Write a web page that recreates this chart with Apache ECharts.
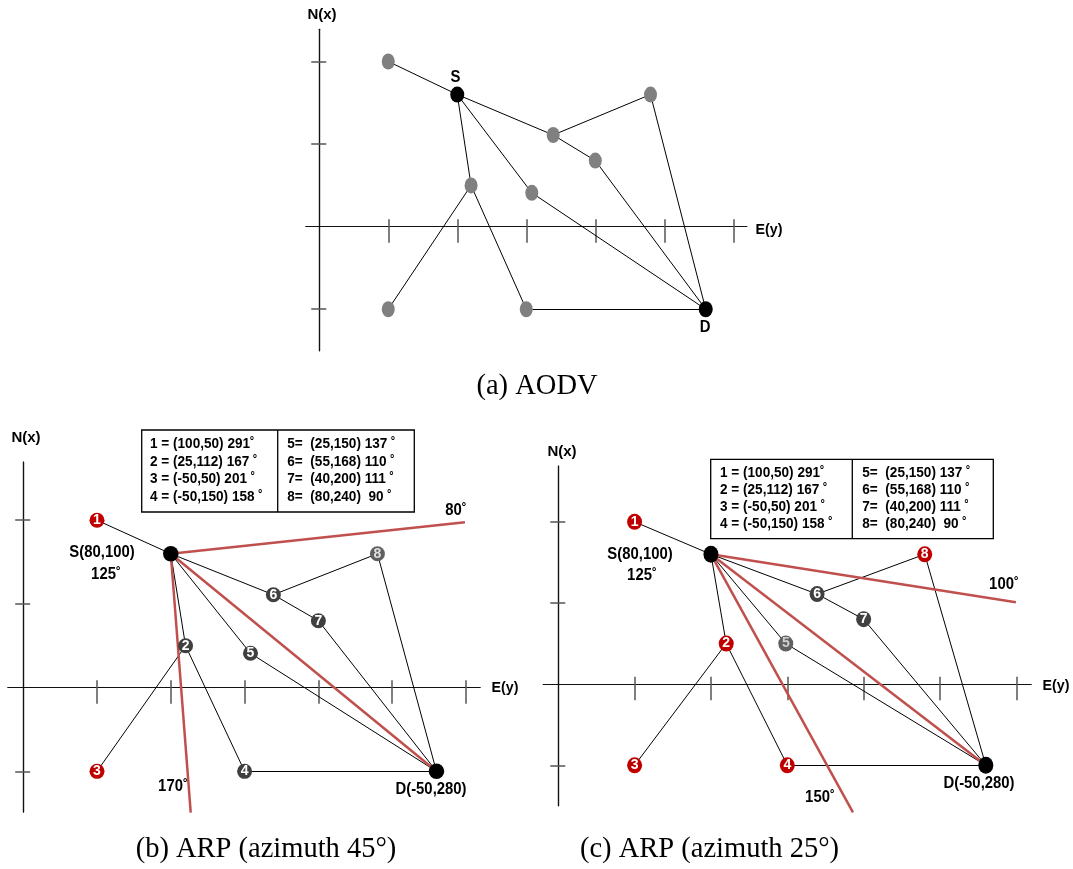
<!DOCTYPE html>
<html><head><meta charset="utf-8">
<script src="https://cdn.jsdelivr.net/npm/echarts@6/dist/echarts.min.js"></script>
<style>html,body{margin:0;padding:0;background:#fff}#c{width:1073px;height:869px}</style>
</head><body><div id="c"></div>
<script>
// ---------------- DATA ----------------
// Node positions: N (x, vertical) and E (y, horizontal)
const nodeNames = ['1', '2', '3', '4', '5', '6', '7', '8'];
const nodeN_ab = [100, 25, -50, -50, 20.5, 55.5, 40, 80];   // panels (a),(b)
const nodeE_ab = [50, 110, 50, 150, 154, 169.5, 200, 240];
const nodeN_c  = [100, 25, -50, -50, 25, 55.5, 40, 80];     // panel (c)
const nodeE_c  = [50, 110, 50, 150, 149, 169.5, 200, 240];
const sourceNode = { name: 'S', N: 80, E: 100 };
const destNode = { name: 'D', N: -50, E: 280 };
const edges = [['1','S'],['S','6'],['6','8'],['8','D'],['6','7'],['7','D'],
               ['S','2'],['2','3'],['2','4'],['4','D'],['S','5'],['5','D']];
const redNodesB = ['1', '3'];
const redNodesC = ['1', '2', '3', '4', '8'];
// red azimuth rays from S, end points [E, N]
const raysB = [{ label: '80˚', end: [299.3, 98.8] }, { label: '170˚', end: [113.5, -74.7] }];
const raysC = [{ label: '100˚', end: [299.7, 50.5] }, { label: '150˚', end: [193, -79] }];
const tickValuesE = [50, 100, 150, 200, 250, 300];
const tickValuesN = [-50, 50, 100];
const tableLeft = ['1 = (100,50) 291˚', '2 = (25,112) 167 ˚', '3 = (-50,50) 201 ˚', '4 = (-50,150) 158 ˚'];
const tableRight = ['5=  (25,150) 137 ˚', '6=  (55,168) 110 ˚', '7=  (40,200) 111 ˚', '8=  (80,240)  90 ˚'];
const captions = ['(a) AODV', '(b) ARP (azimuth 45°)', '(c) ARP (azimuth 25°)'];

// ---------------- LAYOUT ----------------
const SANS = '"Liberation Sans",Arial,"Noto Sans",sans-serif';
const SERIF = '"Liberation Serif","Times New Roman",serif';
const layouts = [
  { left: 306, top: 29.3, width: 440.7, height: 321.4, xMin: -9.6, xMax: 309.7, yMin: -75.1, yMax: 119.5 },
  { left: 8, top: 462, width: 472, height: 350, xMin: -10.3, xMax: 309.5, yMin: -74.3, yMax: 134.8 },
  { left: 543.3, top: 466, width: 487.7, height: 339.7, xMin: -9.8, xMax: 309.6, yMin: -74.9, yMax: 134.4 }
];

const chart = echarts.init(document.getElementById('c'), null, { renderer: 'canvas' });
const grid = [], xAxis = [], yAxis = [], series = [];

layouts.forEach((L, i) => {
  grid.push({ left: L.left, top: L.top, width: L.width, height: L.height, containLabel: false });
  const axLine = { show: true, onZero: true, lineStyle: { color: '#111', width: 1.2 } };
  const tickStyle = { color: '#555', width: 1.5 };
  const common = { gridIndex: i, type: 'value', axisLabel: { show: false }, splitLine: { show: false } };
  xAxis.push(Object.assign({}, common, { position: 'bottom', min: L.xMin, max: L.xMax, axisLine: axLine,
    axisTick: { show: true, inside: false, length: 16, customValues: tickValuesE, lineStyle: tickStyle } }));
  xAxis.push(Object.assign({}, common, { position: 'top', min: L.xMin, max: L.xMax, axisLine: axLine,
    axisTick: { show: true, inside: false, length: 7.5, customValues: tickValuesE, lineStyle: tickStyle } }));
  yAxis.push(Object.assign({}, common, { position: 'left', min: L.yMin, max: L.yMax, axisLine: axLine,
    axisTick: { show: true, inside: false, length: 8, customValues: tickValuesN, lineStyle: tickStyle } }));
  yAxis.push(Object.assign({}, common, { position: 'right', min: L.yMin, max: L.yMax, axisLine: axLine,
    axisTick: { show: true, inside: false, length: 7, customValues: tickValuesN, lineStyle: tickStyle } }));
});

function posMap(Ns, Es) {
  const m = {};
  nodeNames.forEach((n, k) => { m[n] = [Es[k], Ns[k]]; });
  m[sourceNode.name] = [sourceNode.E, sourceNode.N];
  m[destNode.name] = [destNode.E, destNode.N];
  return m;
}

function addPanel(p, Ns, Es, opt) {
  const pos = posMap(Ns, Es);
  const axes = { xAxisIndex: 2 * p, yAxisIndex: 2 * p };
  series.push(Object.assign({
    type: 'lines', coordinateSystem: 'cartesian2d', clip: false, silent: true, z: 2,
    lineStyle: { color: '#000', width: 1, opacity: 1 },
    data: edges.map(e => ({ coords: [pos[e[0]], pos[e[1]]] }))
  }, axes));
  if (opt.rays) {
    const red = [{ coords: [pos.S, pos.D] }].concat(opt.rays.map(r => ({ coords: [pos.S, r.end] })));
    series.push(Object.assign({
      type: 'lines', coordinateSystem: 'cartesian2d', clip: false, silent: true, z: 3,
      lineStyle: { color: '#c0504d', width: 2.5, opacity: 1 }, data: red
    }, axes));
  }
  const pts = nodeNames.map(n => {
    let color = opt.gray, lab = '#fff';
    if (opt.red && opt.red.indexOf(n) >= 0) color = '#c00000';
    if (opt.special && opt.special[n]) { color = opt.special[n][0]; lab = opt.special[n][1]; }
    return {
      name: n, value: pos[n], symbolSize: opt.size, itemStyle: { color: color, opacity: 1 },
      label: { show: !!opt.numbers, formatter: n, color: lab }
    };
  });
  pts.push({ name: 'S', value: pos.S, symbolSize: opt.sizeSD, itemStyle: { color: '#000', opacity: 1 }, label: { show: false } });
  pts.push({ name: 'D', value: pos.D, symbolSize: opt.sizeSD, itemStyle: { color: '#000', opacity: 1 }, label: { show: false } });
  series.push(Object.assign({
    type: 'scatter', clip: false, silent: true, z: 4, symbol: 'circle',
    itemStyle: { opacity: 1 },
    label: { position: 'inside', fontFamily: SANS, fontWeight: 'bold', fontSize: 14 },
    data: pts
  }, axes));
}

addPanel(0, nodeN_ab, nodeE_ab, { gray: '#808080', size: [13, 16], sizeSD: [14, 16] });
addPanel(1, nodeN_ab, nodeE_ab, { gray: '#3f3f3f', size: 15, sizeSD: 15.5, numbers: true, red: redNodesB,
  rays: raysB, special: { '8': ['#606060', '#e0e0e0'] } });
addPanel(2, nodeN_c, nodeE_c, { gray: '#404040', size: [15, 16], sizeSD: [15, 17], numbers: true, red: redNodesC,
  rays: raysC, special: { '5': ['#606060', '#d0d0d0'] } });

// ---------------- TEXT / TABLE GRAPHICS ----------------
const graphic = [];
function txt(text, x, y, size, opt) {
  opt = opt || {};
  graphic.push({ type: 'text', x: x, y: y, scaleX: opt.sx || 1, silent: true, z: 10, style: {
    text: text, fill: opt.color || '#000',
    font: (opt.weight || 'bold') + ' ' + size + 'px ' + (opt.family || SANS),
    align: opt.align || 'center', verticalAlign: 'middle',
    textAlign: opt.align || 'center', textVerticalAlign: 'middle' } });
}
const LBL = { sx: 0.93 };
// panel (a)
txt('N(x)', 322, 15, 15); txt('E(y)', 769, 229.5, 15, { sx: 0.95 }); txt('S', 455.5, 78, 16, LBL); txt('D', 705, 328, 16, LBL);
// panel (b)
txt('N(x)', 26, 437.5, 15); txt('E(y)', 505, 688, 15, { sx: 0.95 });
txt('S(80,100)', 102, 553, 16, LBL); txt('125˚', 106, 575, 16, LBL); txt('D(-50,280)', 431, 790, 16, LBL);
txt(raysB[0].label, 456, 511, 16, LBL); txt(raysB[1].label, 173, 787, 16, LBL);
// panel (c)
txt('N(x)', 562, 451.5, 15); txt('E(y)', 1056, 685.5, 15, { sx: 0.95 });
txt('S(80,100)', 640, 554.5, 16, LBL); txt('125˚', 642, 576, 16, LBL); txt('D(-50,280)', 979, 784, 16, LBL);
txt(raysC[0].label, 1004, 585, 16, LBL); txt(raysC[1].label, 820, 797.5, 16, LBL);
// captions
txt(captions[0], 537, 386.7, 28.5, { weight: 'normal', family: SERIF });
txt(captions[1], 266, 850, 28.5, { weight: 'normal', family: SERIF });
txt(captions[2], 709.5, 850, 28.5, { weight: 'normal', family: SERIF });

function table(box) {
  graphic.push({ type: 'rect', silent: true, z: 9,
    shape: { x: box.l, y: box.t, width: box.r - box.l, height: box.b - box.t },
    style: { fill: '#fff', stroke: '#000', lineWidth: 1.3 } });
  graphic.push({ type: 'line', silent: true, z: 9,
    shape: { x1: box.d, y1: box.t, x2: box.d, y2: box.b }, style: { stroke: '#000', lineWidth: 1.3 } });
  tableLeft.forEach((s, k) => txt(s, box.lx, box.y0 + k * box.dy, 14, { align: 'left', sx: 0.97 }));
  tableRight.forEach((s, k) => txt(s, box.rx, box.y0 + k * box.dy, 14, { align: 'left', sx: 0.97 }));
}
table({ l: 141.7, t: 430, r: 414.3, b: 512, d: 277.7, lx: 150, rx: 287.3, y0: 444, dy: 17.8 });
table({ l: 710.7, t: 459.3, r: 993.3, b: 538.7, d: 852.3, lx: 720, rx: 862.3, y0: 473.3, dy: 17 });

chart.setOption({
  animation: false,
  backgroundColor: '#fff',
  grid: grid, xAxis: xAxis, yAxis: yAxis, series: series, graphic: graphic
});
</script>
</body></html>
